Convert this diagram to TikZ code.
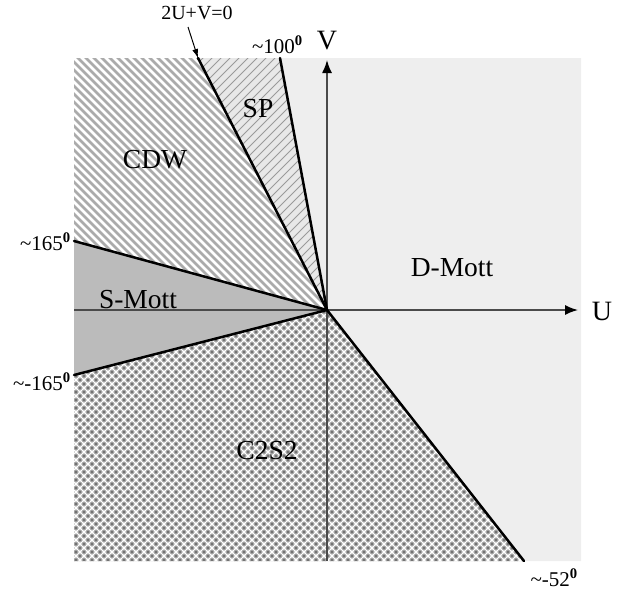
\documentclass[tikz,border=0pt]{standalone}
\usepackage{fontspec}
\setmainfont{Liberation Serif}
\usetikzlibrary{arrows.meta}
\definecolor{dmott}{HTML}{EEEEEE}
\definecolor{smott}{HTML}{BBBBBB}
\definecolor{cdwbg}{HTML}{ABABAB}
\definecolor{spbg}{HTML}{E8E8E8}
\definecolor{spline}{HTML}{9A9A9A}
\definecolor{ccbg}{HTML}{B0B0B0}
\definecolor{axisgray}{HTML}{4A4A4A}
\begin{document}
\begin{tikzpicture}[x=1pt,y=-1pt,
  bnd/.style={line width=2.5pt, black, line cap=round},
  axisline/.style={line width=1.6pt, axisgray, -{Latex[length=13pt,width=10pt,black,fill=black]}},
  regionlab/.style={font=\fontsize{27.5}{30}\selectfont, inner sep=0pt, anchor=base},
  anglab/.style={font=\fontsize{21}{24}\selectfont, inner sep=0pt},
  axislab/.style={font=\fontsize{28}{32}\selectfont, inner sep=0pt},
]
\useasboundingbox (0,0) rectangle (628,592);
\coordinate (O) at (327,310);
\coordinate (tA) at (198,58);
\coordinate (tB) at (280,58);
\coordinate (lA) at (74,241);
\coordinate (lB) at (74,375);
\coordinate (bC) at (524,561);
\coordinate (TL) at (74,58);
\coordinate (TR) at (581,58);
\coordinate (BR) at (581,561);
\coordinate (BL) at (74,561);
% D-Mott
\fill[dmott] (O) -- (tB) -- (TR) -- (BR) -- (bC) -- cycle;
% S-Mott
\fill[smott] (O) -- (lB) -- (lA) -- cycle;
% CDW
\begin{scope}
\clip (O) -- (lA) -- (TL) -- (tA) -- cycle;
\fill[cdwbg] (0,0) rectangle (628,592);
\foreach \k in {-35,...,40} \draw[white, line width=2.6pt] (\k*8,0) -- ++(600,600);
\end{scope}
% SP
\begin{scope}
\clip (O) -- (tA) -- (tB) -- cycle;
\fill[spbg] (0,0) rectangle (628,592);
\foreach \k in {25,...,75} \draw[spline, line width=1pt] (\k*9,0) -- ++(-600,600);
\end{scope}
% C2S2
\begin{scope}
\clip (O) -- (bC) -- (BL) -- (lB) -- cycle;
\fill[ccbg] (0,0) rectangle (628,592);
\foreach \k in {-70,...,10} \draw[black!55, line width=0.9pt] (\k*8+4,0) -- ++(700,700);
\foreach \k in {50,...,140} \draw[black!55, line width=0.9pt] (\k*8+4,0) -- ++(-700,700);
\foreach \k in {-70,...,10} \draw[white, line width=1.2pt] (\k*8,0) -- ++(700,700);
\foreach \k in {50,...,140} \draw[white, line width=1.2pt] (\k*8,0) -- ++(-700,700);
\end{scope}
% axes
\coordinate (uS) at (74,310);
\coordinate (uE) at (578,310);
\coordinate (vS) at (327,561);
\coordinate (vE) at (327,60);
\draw[axisline] (uS) -- (uE);
\draw[axisline] (vS) -- (vE);
% boundaries
\draw[bnd] (O) -- (tA);
\draw[bnd] (O) -- (tB);
\draw[bnd] (O) -- (lA);
\draw[bnd] (O) -- (lB);
\draw[bnd] (O) -- (bC);
% labels
\node[axislab] (U) at (602,311) {U};
\node[axislab] (V) at (327,41) {V};
\node[regionlab] (cdw) at (155,168) {CDW};
\node[regionlab] (sp) at (258,117) {SP};
\node[regionlab] (smott) at (138,308) {S-Mott};
\node[regionlab] (dmott) at (452,276) {D-Mott};
\node[regionlab] (c2s2) at (267,459) {C2S2};
\node[anglab, anchor=base east] (a165) at (71,250) {\textasciitilde165\textsuperscript{\bfseries 0}};
\node[anglab, anchor=base east] (am165) at (71,390) {\textasciitilde-165\textsuperscript{\bfseries 0}};
\node[anglab, anchor=base east] (a100) at (303,53) {\textasciitilde100\textsuperscript{\bfseries 0}};
\node[anglab, anchor=base east] (am52) at (578,586) {\textasciitilde-52\textsuperscript{\bfseries 0}};
\node[anglab, anchor=base, font=\fontsize{20}{24}\selectfont] (eq) at (197,19) {2U+V=0};
\draw[line width=1pt, -{Latex[length=9pt,width=6pt]}] (188,27) -- (tA);
\end{tikzpicture}
\end{document}
